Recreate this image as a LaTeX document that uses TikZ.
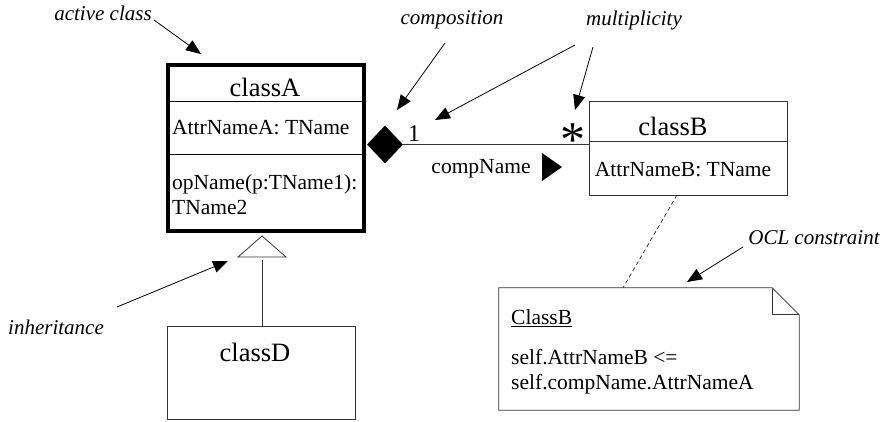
\documentclass[tikz,border=0pt]{standalone}
\usepackage{fontspec}
\setmainfont{Liberation Serif}
\usetikzlibrary{shapes.geometric,arrows.meta,calc}
\tikzset{
  box/.style={draw=black!80, line width=1pt, inner sep=0pt, outer sep=0pt},
  txt/.style={inner sep=0pt, font=\fontsize{21.5}{25}\selectfont},
  cname/.style={inner sep=0pt, font=\fontsize{26.5}{30}\selectfont},
  lbl/.style={inner sep=0pt, font=\fontsize{21}{25}\selectfont\itshape},
  annot/.style={line width=0.8pt, -{Triangle[length=15pt,width=12pt]}},
  conn/.style={line width=0.8pt, draw=black!80},
}
\begin{document}
\begin{tikzpicture}[x=1pt,y=-1pt]
\useasboundingbox (0,0) rectangle (888,422);
% classA (active class)
\node[draw, line width=4pt, inner sep=0pt, outer sep=0pt, minimum width=195.5pt, minimum height=165.5pt] (A) at (265.75,147.75) {};
\draw[line width=1pt] (168,102) -- (363.5,102);
\draw[line width=1pt] (168,155) -- (363.5,155);
\node[cname] (An) at (265,87) {classA};
\node[txt, anchor=west] (Aa) at (172,128) {AttrNameA: TName};
\node[txt, anchor=west, align=left] (Ao) at (172,195) {opName(p:TName1):\\TName2};
% classB
\node[box, minimum width=198pt, minimum height=93pt] (B) at (688,148.5) {};
\draw[conn] (B.west |- 0,141) -- (B.east |- 0,141);
\node[cname] (Bn) at (673,126) {classB};
\node[txt] (Ba) at (683,170) {AttrNameB: TName};
% composition
\node[diamond, fill=black, inner sep=0pt, minimum width=36pt, minimum height=38pt] (dia) at (385,144.5) {};
\draw[conn] (dia.east) -- (dia.east -| B.west);
\node[inner sep=0pt, font=\fontsize{24}{24}\selectfont, anchor=base] (m1) at (414,142) {1};
\node[inner sep=0pt, font=\fontsize{50}{50}\selectfont, anchor=base] (mstar) at (572.5,157) {*};
\node[txt] (cn) at (481,169) {compName};
\fill (542,153) -- (562,167) -- (542,181) -- cycle;
% classD and inheritance
\node[box, minimum width=188pt, minimum height=93pt] (D) at (261,372.5) {};
\node[cname] (Dn) at (255,352) {classD};
\draw[conn, fill=white] (262,236) -- (286,257) -- (238,257) -- cycle;
\draw[conn] (D.north -| 262,0) -- (262,260);
% note
\node[inner sep=0pt, minimum width=300pt, minimum height=122pt] (N) at (649,349) {};
\draw[conn] (N.north west) -- ($(N.north east)+(-27,0)$) -- ($(N.north east)+(0,27)$) -- (N.south east) -- (N.south west) -- cycle;
\draw[conn] ($(N.north east)+(-27,0)$) -- ($(N.north east)+(-27,27)$) -- ($(N.north east)+(0,27)$);
\node[txt, anchor=west] (Nt) at (511,318) {\underline{ClassB}};
\node[txt, anchor=west, align=left] (Nb) at (511,371.5) {self.AttrNameB <=\\self.compName.AttrNameA};
\draw[conn, dash pattern=on 4pt off 3pt] ($(B.south)+(-11,0)$) -- ($(N.north)+(-26,0)$);
% annotations
\node[lbl] (lact) at (103,13) {active class};
\node[lbl] (lcomp) at (452,20) {composition};
\node[lbl] (lmult) at (634,20) {multiplicity};
\node[lbl] (locl) at (814,238) {OCL constraint};
\node[lbl] (linh) at (56,327) {inheritance};
\coordinate (s1) at (154,20); \coordinate (t1) at (201,54);
\coordinate (s2) at (445,43); \coordinate (t2) at (397,110);
\coordinate (s3) at (575,45); \coordinate (t3) at (435,120);
\coordinate (s4) at (593,47); \coordinate (t4) at (575,110);
\coordinate (s5) at (743,247); \coordinate (t5) at (687,282);
\coordinate (s6) at (117,307); \coordinate (t6) at (228,261);
\draw[annot] (s1) -- (t1);
\draw[annot] (s2) -- (t2);
\draw[annot] (s3) -- (t3);
\draw[annot] (s4) -- (t4);
\draw[annot] (s5) -- (t5);
\draw[annot] (s6) -- (t6);
\end{tikzpicture}
\end{document}
